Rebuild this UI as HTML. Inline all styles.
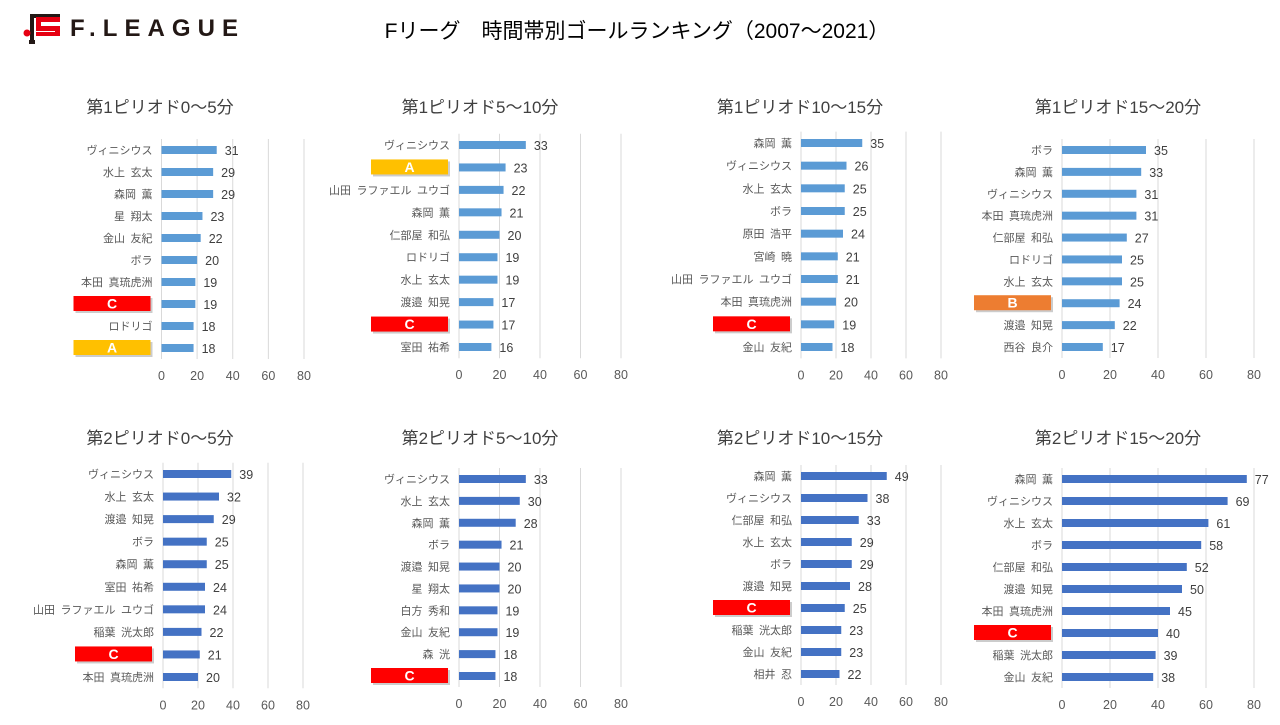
<!DOCTYPE html>
<html><head><meta charset="utf-8"><style>
body{margin:0;background:#fff;width:1280px;height:720px;overflow:hidden}
svg text{font-family:"Liberation Sans","Noto Sans CJK JP",sans-serif}
</style></head><body>
<svg id="s" width="1280" height="720" xmlns="http://www.w3.org/2000/svg">
<rect width="1280" height="720" fill="#fff"/>
<g>
<path d="M30 14 h30 v4 h-26 v25 h-4 z" fill="#231815"/>
<path d="M29 40 v4 h6 v-4 z" fill="#231815"/>
<rect x="36" y="17" width="24" height="5" fill="#e60012"/>
<rect x="36" y="17" width="5" height="12" fill="#e60012"/>
<rect x="36" y="26" width="24" height="5" fill="#e60012"/>
<rect x="55" y="26" width="5" height="10" fill="#e60012"/>
<rect x="36" y="32" width="24" height="4" fill="#e60012"/>
<circle cx="27" cy="33" r="3.5" fill="#e60012"/>
<text x="70" y="36" font-size="24" font-weight="bold" fill="#231815" letter-spacing="4" textLength="172">F.LEAGUE</text>
</g>
<text x="637" y="38" font-size="21" text-anchor="middle" fill="#000">Fリーグ　時間帯別ゴールランキング（2007～2021）</text>
</svg>
<script>
const charts=[
{t:"第1ピリオド0～5分",tx:160,ty:113,x0:161.5,x80:304,r0:150,r9:348,c:"#5b9bd5",d:[["ヴィニシウス",31],["水上　玄太",29],["森岡　薫",29],["星　翔太",23],["金山　友紀",22],["ボラ",20],["本田　真琉虎洲",19],["#C",19],["ロドリゴ",18],["#A",18]]},
{t:"第1ピリオド5～10分",tx:480,ty:113,x0:459,x80:621,r0:145,r9:347,c:"#5b9bd5",d:[["ヴィニシウス",33],["#A",23],["山田　ラファエル　ユウゴ",22],["森岡　薫",21],["仁部屋　和弘",20],["ロドリゴ",19],["水上　玄太",19],["渡邉　知晃",17],["#C",17],["室田　祐希",16]]},
{t:"第1ピリオド10～15分",tx:800,ty:113,x0:801,x80:941,r0:143,r9:347,c:"#5b9bd5",d:[["森岡　薫",35],["ヴィニシウス",26],["水上　玄太",25],["ボラ",25],["原田　浩平",24],["宮崎　曉",21],["山田　ラファエル　ユウゴ",21],["本田　真琉虎洲",20],["#C",19],["金山　友紀",18]]},
{t:"第1ピリオド15～20分",tx:1118,ty:113,x0:1062,x80:1254,r0:150,r9:347,c:"#5b9bd5",d:[["ボラ",35],["森岡　薫",33],["ヴィニシウス",31],["本田　真琉虎洲",31],["仁部屋　和弘",27],["ロドリゴ",25],["水上　玄太",25],["#B",24],["渡邉　知晃",22],["西谷　良介",17]]},
{t:"第2ピリオド0～5分",tx:160,ty:444,x0:163,x80:303,r0:474,r9:677,c:"#4472c4",d:[["ヴィニシウス",39],["水上　玄太",32],["渡邉　知晃",29],["ボラ",25],["森岡　薫",25],["室田　祐希",24],["山田　ラファエル　ユウゴ",24],["稲葉　洸太郎",22],["#C",21],["本田　真琉虎洲",20]]},
{t:"第2ピリオド5～10分",tx:480,ty:444,x0:459,x80:621,r0:479,r9:676,c:"#4472c4",d:[["ヴィニシウス",33],["水上　玄太",30],["森岡　薫",28],["ボラ",21],["渡邉　知晃",20],["星　翔太",20],["白方　秀和",19],["金山　友紀",19],["森　洸",18],["#C",18]]},
{t:"第2ピリオド10～15分",tx:800,ty:444,x0:801,x80:941,r0:476,r9:674,c:"#4472c4",d:[["森岡　薫",49],["ヴィニシウス",38],["仁部屋　和弘",33],["水上　玄太",29],["ボラ",29],["渡邉　知晃",28],["#C",25],["稲葉　洸太郎",23],["金山　友紀",23],["相井　忍",22]]},
{t:"第2ピリオド15～20分",tx:1118,ty:444,x0:1062,x80:1254,r0:479,r9:677,c:"#4472c4",d:[["森岡　薫",77],["ヴィニシウス",69],["水上　玄太",61],["ボラ",58],["仁部屋　和弘",52],["渡邉　知晃",50],["本田　真琉虎洲",45],["#C",40],["稲葉　洸太郎",39],["金山　友紀",38]]}
];
const bc={"#A":"#ffc000","#B":"#ed7d31","#C":"#ff0000"};
let h="";
for(const c of charts){
 const k=(c.x80-c.x0)/80, sp=(c.r9-c.r0)/9;
 h+=`<text x="${c.tx}" y="${c.ty}" font-size="17" text-anchor="middle" fill="#404040">${c.t}</text>`;
 const gt=c.r0-sp/2, gb=c.r9+sp/2;
 for(let i=0;i<=4;i++){const x=c.x0+i*20*k;
  h+=`<line x1="${x}" y1="${gt}" x2="${x}" y2="${gb}" stroke="#d9d9d9" stroke-width="1"/>`;
  h+=`<text x="${x}" y="${gb+21}" font-size="12.5" text-anchor="middle" fill="#595959">${i*20}</text>`;}
 c.d.forEach((d,i)=>{const y=c.r0+i*sp;const w=d[1]*k;
  h+=`<rect x="${c.x0}" y="${y-4}" width="${w}" height="8" fill="${c.c}"/>`;
  h+=`<text x="${c.x0+w+8}" y="${y+5}" font-size="12.5" fill="#404040">${d[1]}</text>`;
  if(d[0][0]=="#"){const bx=c.x0-88;
   h+=`<rect x="${bx+2}" y="${y-6}" width="77" height="15" fill="#999" opacity="0.5"/>`;
   h+=`<rect x="${bx}" y="${y-8}" width="77" height="15" fill="${bc[d[0]]}"/>`;
   h+=`<text x="${bx+38.5}" y="${y+4.5}" font-size="14" font-weight="bold" text-anchor="middle" fill="#fff">${d[0][1]}</text>`;
  } else h+=`<text x="${c.x0-9}" y="${y+4}" font-size="11" text-anchor="end" fill="#595959">${d[0].replace(/　/g,"\u2002")}</text>`;
 });
}
document.getElementById("s").insertAdjacentHTML("beforeend",h);
</script>
</body></html>
